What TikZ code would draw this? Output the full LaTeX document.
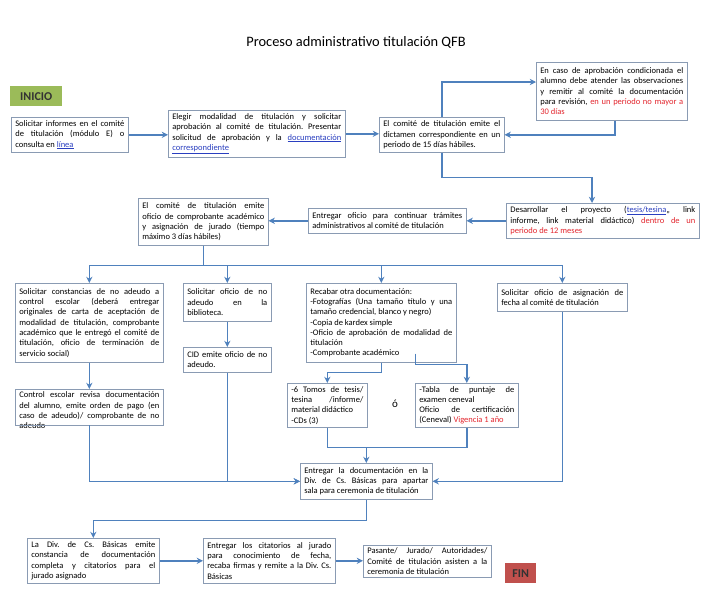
\documentclass[tikz,border=0pt]{standalone}
\usepackage{fontspec}
\setmainfont{Carlito}
\usepackage{xcolor}
\usepackage{tikz}
\usetikzlibrary{arrows.meta,positioning,calc}
\frenchspacing
\definecolor{flowblue}{HTML}{4F81BD}
\definecolor{boxline}{HTML}{8A9BB3}
\definecolor{startgreen}{HTML}{9BBB59}
\definecolor{endred}{HTML}{C0504D}
\definecolor{alertred}{HTML}{E3262E}
\definecolor{linkblue}{HTML}{2A3FC0}
\newcommand{\alerttxt}[1]{\textcolor{alertred}{#1}}
\newcommand{\lnk}[1]{\textcolor{linkblue}{\underline{#1}}}
\tikzset{
  box/.style     ={draw=boxline,line width=0.6pt,fill=white,anchor=north west,
                   inner xsep=4pt,inner ysep=2.5pt,align=justify,
                   font=\fontsize{8.5}{10.3}\selectfont},
  tag/.style     ={anchor=north west,inner sep=2pt,text=black!80,
                   font=\fontsize{12}{14}\selectfont\bfseries},
  wire/.style    ={line width=1.6pt,draw=flowblue},
  flow/.style    ={wire,-{Stealth[length=2.2mm,width=2.2mm]}}
}
\begin{document}
\begin{tikzpicture}[x=1pt,y=-1pt]
    \useasboundingbox (0,0) rectangle (720,603);
    % title
    \node[font=\fontsize{14.4}{17}\selectfont] (title) at (356,42) {Proceso administrativo titulación QFB};
    % start and end tags
    \node[tag,fill=startgreen,minimum width=52,minimum height=20] (inicio) at (10,86) {INICIO};
    \node[tag,fill=endred,minimum width=31,minimum height=20] (fin) at (505,563) {FIN};
    % first row
    \node[box,text width=109,minimum height=35] (informes) at (11,117)
      {Solicitar informes en el comité\linebreak de titulación (módulo E) o\linebreak consulta en \lnk{línea}};
    \node[box,text width=169,minimum height=47] (modalidad) at (168,110)
      {Elegir modalidad de titulación y solicitar\linebreak aprobación al comité de titulación. Presentar\linebreak
       solicitud de aprobación y la \lnk{documentación}\linebreak \lnk{correspondiente}};
    \node[box,text width=117,minimum height=35] (dictamen) at (379,117)
      {El comité de titulación emite el\linebreak dictamen correspondiente en un\linebreak periodo de 15 días hábiles.};
    \node[box,text width=143,minimum height=58] (condicion) at (536,62)
      {En caso de aprobación condicionada el\linebreak alumno debe atender las observaciones\linebreak
       y remitir al comité la documentación\linebreak para revisión, \alerttxt{en un periodo no mayor a}\linebreak
       \alerttxt{30 días}};
    % second row, right to left
    \node[box,text width=185,minimum height=35] (proyecto) at (506,203)
      {Desarrollar el proyecto (\lnk{tesis/tesina},, link\linebreak informe, link material didáctico)
       \alerttxt{dentro de un}\linebreak \alerttxt{periodo de 12 meses}};
    \node[box,text width=150,minimum height=25] (tramites) at (308,208)
      {Entregar oficio para continuar trámites\linebreak administrativos al comité de titulación};
    \node[box,text width=122,minimum height=47] (jurado) at (138,198)
      {El comité de titulación emite\linebreak oficio de comprobante académico\linebreak
       y asignación de jurado (tiempo\linebreak máximo 3 días hábiles)};
    % third row
    \node[box,text width=140,minimum height=79] (constancias) at (15,283)
      {Solicitar constancias de no adeudo a\linebreak control escolar (deberá entregar\linebreak
       originales de carta de aceptación de\linebreak modalidad de titulación, comprobante\linebreak
       académico que le entregó el comité de\linebreak titulación, oficio de terminación de\linebreak servicio social)};
    \node[box,text width=80,minimum height=38] (biblioteca) at (183,283)
      {Solicitar oficio de no\linebreak adeudo en la\linebreak biblioteca.};
    \node[box,text width=142,minimum height=79] (recabar) at (306,283)
      {Recabar otra documentación:\\ -Fotografías (Una tamaño título y una\linebreak
       tamaño credencial, blanco y negro)\\ -Copia de kardex simple\\
       -Oficio de aprobación de modalidad de\linebreak titulación\\ -Comprobante académico};
    \node[box,text width=122,minimum height=28] (fecha) at (497,283)
      {Solicitar oficio de asignación de\linebreak fecha al comité de titulación};
    % fourth row
    \node[box,draw=none,text width=140] (control) at (15,389)
      {Control escolar revisa documentación\linebreak del alumno, emite orden de pago (en\linebreak
       caso de adeudo)/ comprobante de no\linebreak adeudo};
    \draw[boxline,line width=0.6pt] (control.north west) rectangle ($(control.north east)+(0,36)$);
    \coordinate (controlbase) at ($(control.north)+(0,36)$);
    \node[box,text width=80,minimum height=25] (cid) at (183,347)
      {CID emite oficio de no\linebreak adeudo.};
    \node[box,text width=72,minimum height=44] (tomos) at (287,383)
      {-6 Tomos de tesis/\linebreak tesina /informe/\linebreak material didáctico\\ -CDs (3)};
    \node[font=\fontsize{11}{13}\selectfont] (o) at (395,404) {ó};
    \node[box,text width=95,minimum height=44] (tabla) at (415,383)
      {-Tabla de puntaje de\linebreak examen ceneval\\ Oficio de certificación\linebreak
       (Ceneval) \alerttxt{Vigencia 1 año}};
    % delivery
    \node[box,text width=124,minimum height=36] (entrega) at (300,463)
      {Entregar la documentación en la\linebreak Div. de Cs. Básicas para apartar\linebreak
       sala para ceremonia de titulación};
    % bottom row
    \node[box,text width=124,minimum height=45] (constdoc) at (27,538)
      {La Div. de Cs. Básicas emite\linebreak constancia de documentación\linebreak
       completa y citatorios para el\linebreak jurado asignado};
    \node[box,text width=124,minimum height=45] (citatorios) at (203,538)
      {Entregar los citatorios al jurado\linebreak para conocimiento de fecha,\linebreak
       recaba firmas y remite a la Div. Cs.\linebreak Básicas};
    \node[box,text width=120,minimum height=28] (ceremonia) at (363,545)
      {Pasante/ Jurado/ Autoridades/\linebreak Comité de titulación asisten a la\linebreak
       ceremonia de titulación};
    % connectors, first row
    \draw[flow] (informes.east) -- (informes.east -| modalidad.west);
    \draw[flow] (modalidad.east) -- (modalidad.east -| dictamen.west);
    \draw[flow] (dictamen.north) |- ($(condicion.north west)+(0,20)$);
    \draw[flow] ($(condicion.south west)+(79,0)$) |- (dictamen.east);
    \draw[flow] (dictamen.south) -- ++(0,25) -| ($(proyecto.north west)+(86,0)$);
    % second row
    \draw[flow] (proyecto.west) -- (proyecto.west -| tramites.east);
    \draw[flow] (tramites.west) -- (tramites.west -| jurado.east);
    % split below the jury box
    \coordinate (stem) at (jurado.south);
    \coordinate (split) at ($(stem)+(0,20)$);
    \draw[flow] (stem) |- (split -| constancias.north) -- (constancias.north);
    \draw[flow] (stem) |- (split -| biblioteca.north) -- (biblioteca.north);
    \draw[flow] (stem) |- (split -| recabar.north) -- (recabar.north);
    \draw[flow] (stem) |- (split -| fecha.north) -- (fecha.north);
    % columns
    \draw[flow] (constancias.south) -- (constancias.south |- control.north);
    \draw[flow] (biblioteca.south) -- (cid.north);
    \draw[flow] (recabar.south) -- ++(0,10) -| (tomos.north);
    \draw[flow] ($(recabar.south)+(34,-9)$) -- ++(0,11) -| (tabla.north);
    \coordinate (merge) at ($(tomos.south)+(0,20)$);
    \draw[wire] (tomos.south) -- (merge) -| (tabla.south);
    \draw[flow] (merge -| entrega.north) -- (entrega.north);
    \draw[flow] (controlbase) |- (entrega.west);
    \draw[flow] (cid.south) |- (entrega.west);
    \draw[flow] (fecha.south) |- (entrega.east);
    % bottom row
    \draw[flow] (entrega.south) -- ++(0,21) -| (constdoc.north);
    \draw[flow] (constdoc.east) -- (constdoc.east -| citatorios.west);
    \draw[flow] (citatorios.east) -- (citatorios.east -| ceremonia.west);
  \end{tikzpicture}
\end{document}
